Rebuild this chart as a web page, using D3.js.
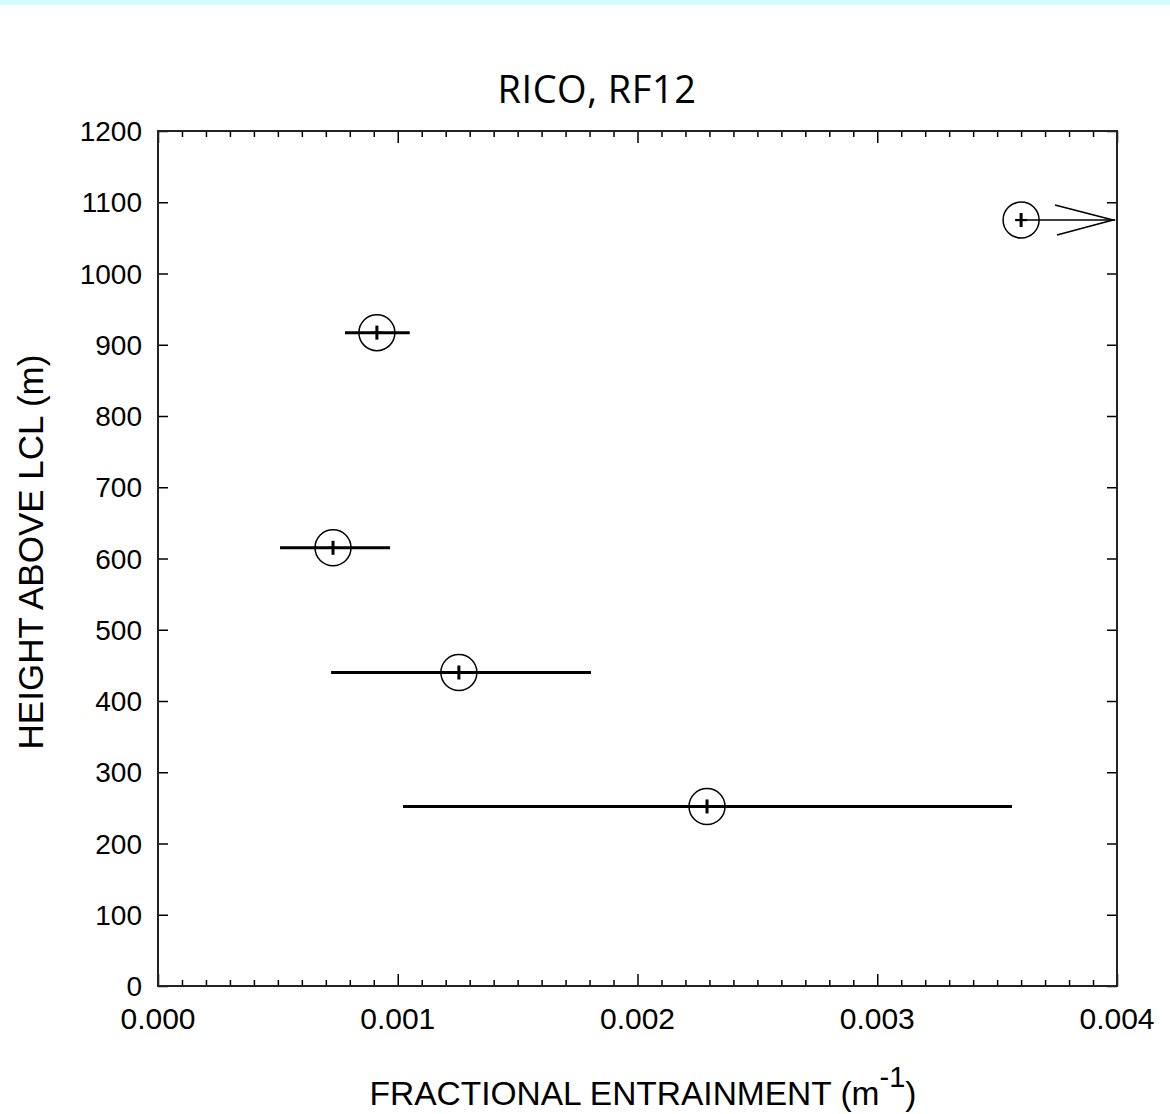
<!DOCTYPE html>
<html lang="en">
<head>
    <meta charset="UTF-8">
    <title>RICO, RF12</title>
    <script src="https://cdnjs.cloudflare.com/ajax/libs/d3/7.8.5/d3.min.js"></script>
    <style>
        html, body { margin: 0; padding: 0; background: #fff; }
        svg { display: block; }
    </style>
</head>
<body>
    <div id="chart"></div>
    <script>
        // values
        const heights = [1075, 917, 615, 440, 252];
        const entrainment = [0.0036, 0.000913, 0.00073, 0.001255, 0.00229];
        const errLow = [null, 0.00078, 0.000509, 0.000722, 0.001022];
        const errHigh = [null, 0.00105, 0.000968, 0.001806, 0.003562];
        const offScale = [true, false, false, false, false];
        const xTicks = [0, 0.001, 0.002, 0.003, 0.004];
        const yTicks = [0, 100, 200, 300, 400, 500, 600, 700, 800, 900, 1000, 1100, 1200];

        const W = 1170, H = 1114;
        const margin = { top: 131, right: 53, bottom: 128, left: 158 };
        const width = W - margin.left - margin.right;
        const height = H - margin.top - margin.bottom;

        const svg = d3.select("#chart").append("svg")
            .attr("width", W)
            .attr("height", H);

        // thin cyan band on top of the page
        svg.append("rect")
            .attr("x", 0).attr("y", 0)
            .attr("width", W).attr("height", 5)
            .attr("fill", "#d4fbfd");

        const g = svg.append("g")
            .attr("transform", `translate(${margin.left},${margin.top})`);

        const x = d3.scaleLinear().domain([0, 0.004]).range([0, width]);
        const y = d3.scaleLinear().domain([0, 1200]).range([height, 0]);

        const minorX = d3.range(0, 41).map(i => i * 0.0001);

        // bottom axis: ticks point inward
        const bottomAxis = g.append("g").attr("transform", `translate(0,${height})`);
        bottomAxis.call(d3.axisTop(x).tickValues(minorX).tickSize(6).tickFormat(""));
        bottomAxis.selectAll(".tick line").attr("y2", (d, i) => i % 10 === 0 ? -12 : -6);

        // top axis
        const topAxis = g.append("g");
        topAxis.call(d3.axisBottom(x).tickValues(minorX).tickSize(6).tickFormat(""));
        topAxis.selectAll(".tick line").attr("y2", (d, i) => i % 10 === 0 ? 12 : 6);

        g.append("g").call(d3.axisRight(y).tickValues(yTicks).tickSize(10).tickFormat(""));
        g.append("g").attr("transform", `translate(${width},0)`)
            .call(d3.axisLeft(y).tickValues(yTicks).tickSize(10).tickFormat(""));

        g.selectAll(".domain").remove();
        g.selectAll(".tick line").attr("stroke", "#000").attr("stroke-width", 1.5);

        g.append("rect")
            .attr("width", width).attr("height", height)
            .attr("fill", "none").attr("stroke", "#222").attr("stroke-width", 2);

        // tick labels
        g.selectAll(".xlab").data(xTicks).join("text")
            .attr("x", d => x(d)).attr("y", height + 43)
            .attr("text-anchor", "middle")
            .style("font-family", "'Liberation Sans', Arial, sans-serif")
            .style("font-size", "30px")
            .text(d => d3.format(".3f")(d));

        g.selectAll(".ylab").data(yTicks).join("text")
            .attr("x", -16).attr("y", d => y(d)).attr("dy", "0.36em")
            .attr("text-anchor", "end")
            .style("font-family", "'Liberation Sans', Arial, sans-serif")
            .style("font-size", "28px")
            .text(d => d);

        // titles
        svg.append("text")
            .attr("x", 597).attr("y", 103)
            .attr("text-anchor", "middle")
            .style("font-family", "'Open Sans', sans-serif")
            .style("font-size", "38px")
            .style("letter-spacing", "0.5px")
            .text("RICO, RF12");

        const xt = svg.append("text")
            .attr("x", 643).attr("y", 1105)
            .attr("text-anchor", "middle")
            .style("font-family", "'Liberation Sans', Arial, sans-serif")
            .style("font-size", "33.5px");
        xt.append("tspan").text("FRACTIONAL ENTRAINMENT (m");
        xt.append("tspan").attr("dy", -18).style("font-size", "29px").text("-1");
        xt.append("tspan").attr("dy", 18).text(")");

        svg.append("text")
            .attr("transform", "translate(43,552) rotate(-90)")
            .attr("text-anchor", "middle")
            .style("font-family", "'Liberation Sans', Arial, sans-serif")
            .style("font-size", "35px")
            .text("HEIGHT ABOVE LCL (m)");

        const pts = heights.map((h, i) => ({
            h, e: entrainment[i], lo: errLow[i], hi: errHigh[i], off: offScale[i]
        }));

        // error bars
        g.selectAll(".err").data(pts.filter(d => d.lo !== null)).join("line")
            .attr("x1", d => x(d.lo)).attr("x2", d => x(d.hi))
            .attr("y1", d => y(d.h)).attr("y2", d => y(d.h))
            .attr("stroke", "#000").attr("stroke-width", 3);

        // off-scale arrow
        const offPts = pts.filter(d => d.off);
        g.selectAll(".arr").data(offPts).join("line")
            .attr("x1", d => x(d.e)).attr("x2", width - 2)
            .attr("y1", d => y(d.h)).attr("y2", d => y(d.h))
            .attr("stroke", "#000").attr("stroke-width", 1.5);
        g.selectAll(".head").data(offPts).join("path")
            .attr("d", d => {
                const tx = width - 4, ty = y(d.h);
                return `M${tx - 58},${ty - 15}L${tx},${ty}L${tx - 56},${ty + 15}`;
            })
            .attr("fill", "none").attr("stroke", "#000").attr("stroke-width", 1.6);

        // circles with crosses
        g.selectAll(".pt").data(pts).join("circle")
            .attr("cx", d => x(d.e)).attr("cy", d => y(d.h))
            .attr("r", 18)
            .attr("fill", "none").attr("stroke", "#000").attr("stroke-width", 1.5);

        g.selectAll(".ch").data(pts).join("line")
            .attr("x1", d => x(d.e) - 6).attr("x2", d => x(d.e) + 6)
            .attr("y1", d => y(d.h)).attr("y2", d => y(d.h))
            .attr("stroke", "#000").attr("stroke-width", 2.2);
        g.selectAll(".cv").data(pts).join("line")
            .attr("x1", d => x(d.e)).attr("x2", d => x(d.e))
            .attr("y1", d => y(d.h) - 7).attr("y2", d => y(d.h) + 7)
            .attr("stroke", "#000").attr("stroke-width", 3);
    </script>
</body>
</html>
